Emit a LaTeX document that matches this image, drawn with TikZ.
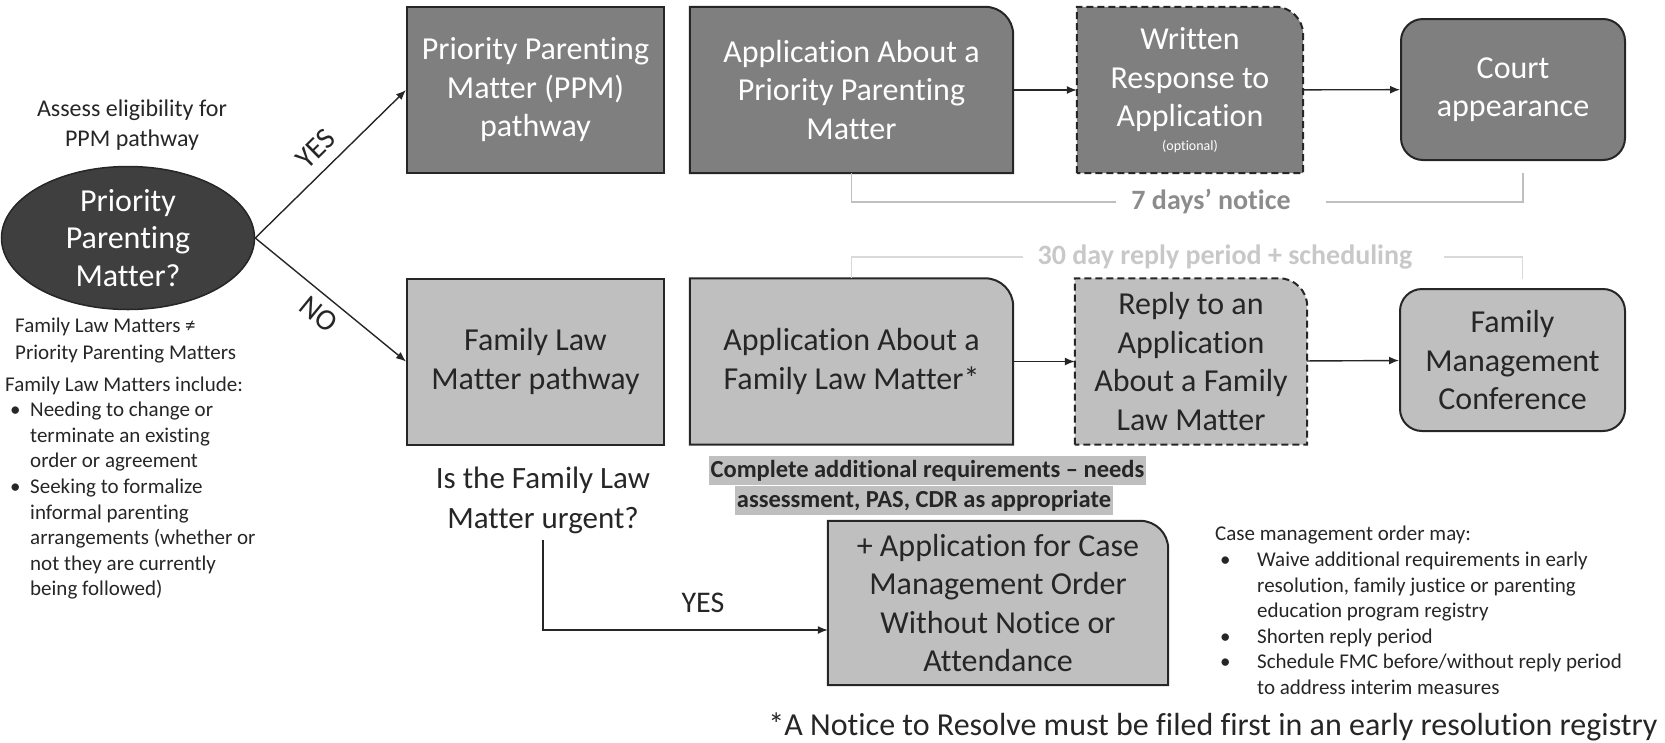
\documentclass[tikz,border=0pt]{standalone}
\usepackage{fontspec}
\setmainfont{Carlito}[Ligatures=NoCommon]
\usetikzlibrary{arrows.meta,shapes.geometric,backgrounds}
\definecolor{darkfill}{HTML}{7F7F7F}
\definecolor{lightfill}{HTML}{BFBFBF}
\definecolor{ovalfill}{HTML}{3F3F3F}
\definecolor{ink}{HTML}{262626}
\definecolor{noticegray}{HTML}{8C8C8C}
\definecolor{replygray}{HTML}{C8C8C8}
\newcommand\cornershape[2]{%
  \path[#2] (#1.south west) -- (#1.north west) -- ([xshift=-28pt]#1.north east)
    arc[start angle=90, end angle=0, radius=28pt] -- (#1.south east) -- cycle;}
\newcommand\notebullet[1]{\makebox[#1][l]{\hspace{5pt}\textbullet}}
\begin{document}
\begin{tikzpicture}[x=1pt, y=1pt,
  boxtext/.style={align=center, inner sep=0pt, minimum height=166, font=\fontsize{32}{38.5}\selectfont},
  darkbox/.style={boxtext, fill=darkfill, draw=ink, line width=2, text=white},
  lightbox/.style={boxtext, fill=lightfill, draw=ink, line width=2, text=ink},
  roundbox/.style={rounded corners=22pt, minimum height=141},
  oval/.style={ellipse, fill=ovalfill, draw=ink, line width=1.5, text=white, align=center,
    minimum width=253, minimum height=143, inner sep=-6pt, font=\fontsize{32}{37.5}\selectfont},
  cornerdark/.style={fill=darkfill, draw=ink, line width=2},
  cornerlight/.style={fill=lightfill, draw=ink, line width=2},
  dashedline/.style={dash pattern=on 7pt off 4pt},
  note/.style={align=left, inner sep=0pt, text=ink, font=\fontsize{21}{25.6}\selectfont},
  pathlabel/.style={inner sep=2pt, text=ink, font=\fontsize{30}{36}\selectfont},
  daynote/.style={inner xsep=15pt, inner ysep=0pt, font=\bfseries\fontsize{28}{34}\selectfont},
  hilite/.style={fill=lightfill, inner xsep=2pt, inner ysep=0pt, text height=21, text depth=8,
    anchor=base, text=ink, font=\bfseries\fontsize{24.5}{30}\selectfont},
  arrow/.style={-{Latex[length=10pt,width=8pt]}, line width=1.4, draw=ink},
  bracket/.style={line width=1.5, draw=#1}
]
\useasboundingbox (0,0) rectangle (1665,-742);

\node[oval] (ppm) at (128,-238) {Priority\\Parenting\\Matter?};
\node[note, align=center, font=\fontsize{24}{30}\selectfont] (assess) at (132,-125) {Assess eligibility for\\PPM pathway};
\node[note, font=\fontsize{21}{27}\selectfont, anchor=west] (noteq) at (15,-341) {Family Law Matters ≠\\Priority Parenting Matters};
\node[note, anchor=west] (include) at (5,-488) {Family Law Matters include:\\
  \notebullet{25pt}Needing to change or\\
  \makebox[25pt]{}terminate an existing\\
  \makebox[25pt]{}order or agreement\\
  \notebullet{25pt}Seeking to formalize\\
  \makebox[25pt]{}informal parenting\\
  \makebox[25pt]{}arrangements (whether or\\
  \makebox[25pt]{}not they are currently\\
  \makebox[25pt]{}being followed)};

\node[darkbox, minimum width=257] (ppmpath) at (535.5,-90) {Priority Parenting\\Matter (PPM)\\pathway};
\node[boxtext, text=white, minimum width=323] (appppm) at (851.5,-90) {Application About a\\Priority Parenting\\Matter};
\node[boxtext, text=white, minimum width=226] (written) at (1190,-90) {Written\\Response to\\Application\\[-15pt]{\fontsize{14}{16}\selectfont (optional)}};
\node[darkbox, roundbox, minimum width=224] (court) at (1513,-89.5) {Court\\appearance};

\node[lightbox, minimum width=257] (flmpath) at (535.5,-361.5) {Family Law\\Matter pathway};
\node[boxtext, text=ink, minimum width=323] (appflm) at (851.5,-361.5) {Application About a\\Family Law Matter*};
\node[boxtext, text=ink, minimum width=232] (reply) at (1191,-361.5) {Reply to an\\Application\\About a Family\\Law Matter};
\node[lightbox, roundbox, minimum width=225, minimum height=142] (fmc) at (1512.5,-360) {Family\\Management\\Conference};

\node[boxtext, text=ink, minimum width=340, minimum height=164] (casebox) at (998,-603) {+ Application for Case\\Management Order\\Without Notice or\\Attendance};

\begin{scope}[on background layer]
  \cornershape{appppm}{cornerdark}
  \cornershape{written}{cornerdark, dashedline}
  \cornershape{appflm}{cornerlight}
  \cornershape{reply}{cornerlight, dashedline}
  \cornershape{casebox}{cornerlight}
\end{scope}

\node[note, align=center, font=\fontsize{31}{40}\selectfont] (urgent) at (543,-500) {Is the Family Law\\Matter urgent?};
\node[hilite] (req) at (927.5,-477) {Complete additional requirements – needs};
\node[hilite] (req2) at (924,-507) {assessment, PAS, CDR as appropriate};
\node[note, anchor=west] (casenote) at (1215,-610.5) {Case management order may:\\
  \notebullet{42pt}Waive additional requirements in early\\
  \makebox[42pt]{}resolution, family justice or parenting\\
  \makebox[42pt]{}education program registry\\
  \notebullet{42pt}Shorten reply period\\
  \notebullet{42pt}Schedule FMC before/without reply period\\
  \makebox[42pt]{}to address interim measures};
\node[pathlabel, font=\fontsize{32}{38}\selectfont] (footnote) at (1213,-727) {*A Notice to Resolve must be filed first in an early resolution registry};

\node[daynote, text=noticegray] (seven) at (1211,-202) {7 days’ notice};
\node[daynote, text=replygray] (thirty) at (1225,-257) {30 day reply period + scheduling};
\node[pathlabel] (urgentyes) at (703,-603) {YES};
\coordinate (courtfoot) at ([shift={(10,-12)}]court.south);
\coordinate (fmctop) at ([shift={(10,9)}]fmc.north);

\draw[arrow] (ppm.east) -- node[pathlabel, sloped, above=9pt] {YES} (ppmpath.west);
\draw[arrow] (ppm.east) -- node[pathlabel, sloped, below=6pt] {NO} (flmpath.west);
\draw[arrow] (appppm) -- (written);
\draw[arrow] (written) -- (court);
\draw[arrow] (appflm) -- (reply);
\draw[arrow] (reply) -- (fmc);
\draw[arrow] ([yshift=-6pt]urgent.south) |- (casebox.west |- 0,-630);
\draw[bracket=lightfill] (appppm.south) |- (seven.west);
\draw[bracket=lightfill] ([xshift=20pt]seven.east) -| (courtfoot);
\draw[bracket=gray!30] (appflm.north) |- (thirty.west);
\draw[bracket=gray!30] ([xshift=16pt]thirty.east) -| (fmctop);
\end{tikzpicture}
\end{document}
